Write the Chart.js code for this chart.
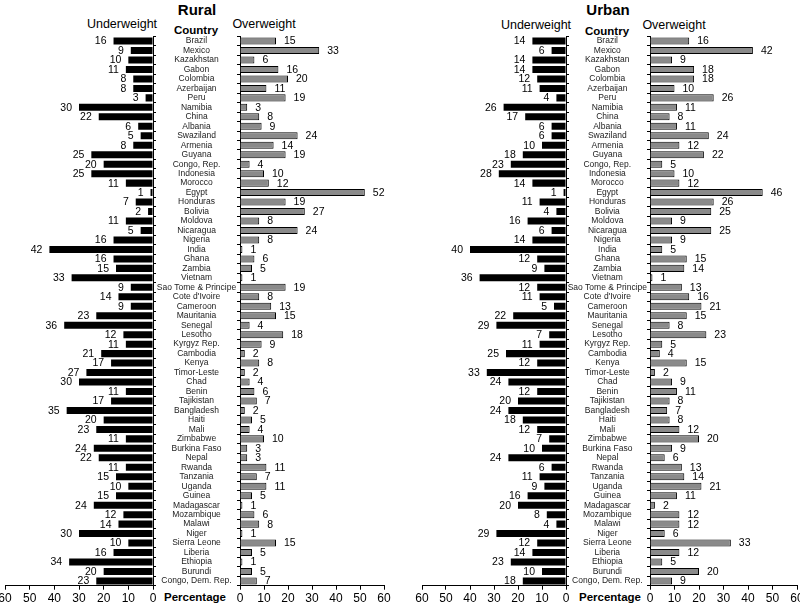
<!DOCTYPE html>
<html><head><meta charset="utf-8">
<script src="https://cdn.jsdelivr.net/npm/chart.js@4.4.1/dist/chart.umd.min.js"></script>
<style>
body{margin:0;background:#fff;width:800px;height:605px;overflow:hidden;position:relative;font-family:"Liberation Sans",Arial,sans-serif;}
canvas{position:absolute;top:0;}
.t{position:absolute;transform:translate(-50%,-50%);white-space:nowrap;color:#000;line-height:1;}
.h{font-weight:bold;font-size:15px;}
.s{font-size:12.5px;}
.c{font-weight:bold;font-size:11.5px;}
.p{font-weight:bold;font-size:11.5px;}
</style></head><body>
<div class="t h" style="left:197px;top:9px">Rural</div>
<div class="t s" style="left:122px;top:24px">Underweight</div>
<div class="t c" style="left:196px;top:31px">Country</div>
<div class="t s" style="left:264px;top:24px">Overweight</div>
<div class="t p" style="left:195px;top:598px">Percentage</div>
<div class="t h" style="left:608px;top:9px">Urban</div>
<div class="t s" style="left:536px;top:25px">Underweight</div>
<div class="t c" style="left:607px;top:32px">Country</div>
<div class="t s" style="left:674px;top:25px">Overweight</div>
<div class="t p" style="left:610px;top:598px">Percentage</div>
<canvas id="ru" width="160" height="605" style="left:0px"></canvas>
<canvas id="ro" width="240" height="605" style="left:155px"></canvas>
<canvas id="uu" width="175" height="605" style="left:400px"></canvas>
<canvas id="uo" width="240" height="605" style="left:560px"></canvas>
<script>
const countries = ["Brazil","Mexico","Kazakhstan","Gabon","Colombia","Azerbaijan","Peru","Namibia","China","Albania","Swaziland","Armenia","Guyana","Congo, Rep.","Indonesia","Morocco","Egypt","Honduras","Bolivia","Moldova","Nicaragua","Nigeria","India","Ghana","Zambia","Vietnam","Sao Tome & Principe","Cote d'Ivoire","Cameroon","Mauritania","Senegal","Lesotho","Kyrgyz Rep.","Cambodia","Kenya","Timor-Leste","Chad","Benin","Tajikistan","Bangladesh","Haiti","Mali","Zimbabwe","Burkina Faso","Nepal","Rwanda","Tanzania","Uganda","Guinea","Madagascar","Mozambique","Malawi","Niger","Sierra Leone","Liberia","Ethiopia","Burundi","Congo, Dem. Rep."];
const ruralUnderweight = [16,9,10,11,8,8,3,30,22,6,5,8,25,20,25,11,1,7,2,11,5,16,42,16,15,33,9,14,9,23,36,12,11,21,17,27,30,11,17,35,20,23,11,24,22,11,15,10,15,24,12,14,30,10,16,34,20,23];
const ruralOverweight = [15,33,6,16,20,11,19,3,8,9,24,14,19,4,10,12,52,19,27,8,24,8,1,6,5,1,19,8,13,15,4,18,9,2,8,2,4,6,7,2,5,4,10,3,3,11,7,11,5,1,6,8,1,15,5,1,5,7];
const urbanUnderweight = [14,6,14,14,12,11,4,26,17,6,6,10,18,23,28,14,1,11,4,16,6,14,40,12,9,36,12,11,5,22,29,7,11,25,12,33,24,12,20,24,18,12,7,10,24,6,11,9,16,20,8,4,29,12,14,23,10,18];
const urbanOverweight = [16,42,9,18,18,10,26,11,8,11,24,12,22,5,10,12,46,26,25,9,25,9,5,15,14,1,13,16,21,15,8,23,5,4,15,2,9,11,8,7,8,12,20,9,6,13,14,21,11,2,12,12,6,33,12,5,20,9];
const xMin = 0, xMax = 60, xStep = 10;

const FONT = '"Liberation Sans", Arial, sans-serif';
const LABEL_SIZE = 8.5;
Chart.defaults.color = '#000';
Chart.defaults.font.family = FONT;

const mctx = document.createElement('canvas').getContext('2d');
mctx.font = LABEL_SIZE + 'px ' + FONT;
const widest = Math.max(...countries.map(c => mctx.measureText(c).width));

const valueLabels = {
  id: 'valueLabels',
  afterDatasetsDraw(chart, args, opts) {
    const ctx = chart.ctx;
    ctx.save();
    ctx.font = '10.5px ' + FONT;
    ctx.fillStyle = '#000';
    ctx.textBaseline = 'middle';
    const meta = chart.getDatasetMeta(0);
    const vals = chart.data.datasets[0].data;
    meta.data.forEach((el, i) => {
      if (opts.under) {
        ctx.textAlign = 'right';
        ctx.fillText(String(vals[i]), el.x - 7, el.y + 0.5);
      } else {
        ctx.textAlign = 'left';
        ctx.fillText(String(vals[i]), el.x + 8, el.y + 0.5);
      }
    });
    ctx.restore();
  }
};

function make(id, values, cfg) {
  const tickLen = 3;
  const yTicks = cfg.under
    ? { display: false }
    : { display: true, autoSkip: false, crossAlign: 'center', color: '#222',
        font: { size: LABEL_SIZE },
        padding: Math.max(0, cfg.yWidth - tickLen - cfg.labelCenter - widest / 2) };
  return new Chart(document.getElementById(id), {
    type: 'bar',
    data: {
      labels: countries,
      datasets: [{
        data: values,
        backgroundColor: cfg.under ? '#000' : '#8a8a8a',
        borderColor: '#000',
        borderWidth: cfg.under ? 0 : 1,
        barPercentage: 0.74,
        categoryPercentage: 1
      }]
    },
    options: {
      indexAxis: 'y',
      responsive: false,
      animation: false,
      devicePixelRatio: 1,
      layout: { padding: { top: 36.3, bottom: 0, left: cfg.padLeft, right: cfg.padRight } },
      plugins: { legend: { display: false }, tooltip: { enabled: false }, valueLabels: { under: cfg.under } },
      scales: {
        x: {
          type: 'linear', position: 'bottom', min: xMin, max: xMax, reverse: cfg.under,
          ticks: { stepSize: xStep, font: { size: 12 }, padding: 2, maxRotation: 0 },
          grid: { drawOnChartArea: false, drawTicks: true, tickLength: 4, color: '#000', tickColor: '#000' },
          border: { display: true, color: '#000', width: 1 },
          afterFit: s => { s.height = 19.3; s.paddingLeft = 0; s.paddingRight = 0; }
        },
        y: {
          type: 'category', position: cfg.under ? 'right' : 'left', offset: true,
          ticks: yTicks,
          grid: { offset: true, drawOnChartArea: false, drawTicks: true, tickLength: tickLen, color: '#000', tickColor: '#000' },
          border: { display: true, color: '#000', width: 1 },
          afterFit: s => { s.width = cfg.yWidth; s.paddingTop = 0; s.paddingBottom = 0; }
        }
      }
    },
    plugins: [valueLabels]
  });
}

make('ru', ruralUnderweight, { under: true, padLeft: 5, padRight: 0, yWidth: 7 });
make('ro', ruralOverweight, { under: false, padLeft: 0, padRight: 11, yWidth: 85, labelCenter: 41.5 });
make('uu', urbanUnderweight, { under: true, padLeft: 22, padRight: 0, yWidth: 9 });
make('uo', urbanOverweight, { under: false, padLeft: 0, padRight: 3, yWidth: 90, labelCenter: 48 });
</script>
</body></html>
